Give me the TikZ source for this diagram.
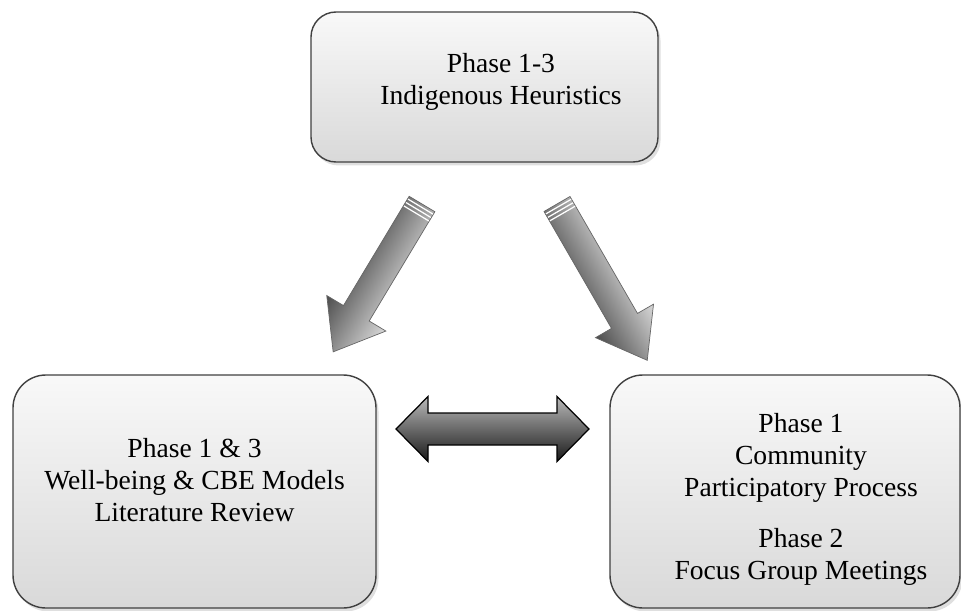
\documentclass[tikz,border=0pt]{standalone}
\usepackage{fontspec}
\setmainfont{Liberation Serif}
\usepackage{tikz}
\usetikzlibrary{calc,positioning,shadows}
\tikzset{
  box/.style={draw=black!75,line width=0.8pt,top color=gray!5,bottom color=gray!30,
    drop shadow={opacity=0.25,shadow xshift=0.05cm,shadow yshift=-0.07cm}},
  lbl/.style={font=\fontsize{15.7}{18.2}\selectfont,align=center,inner sep=0pt},
  fat/.style={draw=black!60,line width=0.4pt,top color=gray!30,middle color=gray!65,bottom color=gray!60!black},
  twin/.style={draw=black,line width=0.7pt,top color=gray!55,bottom color=gray!20!black},
  rib/.style={white,line width=0.7pt},
}

\begin{document}
\begin{tikzpicture}
    \useasboundingbox (0,0) rectangle (19.22,12.2);
    % ---------- the three phase boxes ----------
    \node[box,rounded corners=0.5cm,minimum width=6.94cm,minimum height=3.0cm] (heur) at (9.69,10.46) {};
    \node[box,rounded corners=0.66cm,minimum width=7.26cm,minimum height=4.66cm] (lit) at (3.89,2.37) {};
    \node[box,rounded corners=0.66cm,minimum width=7.0cm,minimum height=4.66cm] (comm) at (15.7,2.37) {};
    % box texts
    \node[lbl] (heurtxt) at ($(heur.center)+(0.33,0.11)$) {Phase 1-3\\Indigenous Heuristics};
    \node[lbl] (littxt) at ($(lit.center)+(0,0.22)$) {Phase 1 \& 3\\Well-being \& CBE Models\\Literature Review};
    \node[lbl] (commtxt) at ($(comm.center)+(0.32,-0.15)$) {Phase 1\\Community\\Participatory Process\\[0.38cm]Phase 2\\Focus Group Meetings};
    % ---------- block arrows ----------
    \coordinate (tl) at (8.44,8.12);   % tail, left arrow
    \coordinate (tr) at (11.14,8.12);  % tail, right arrow
    \coordinate (tw) at (9.85,3.62);   % centre, double arrow
    \begin{scope}[transform canvas={shift={(tl)},rotate=239}]
      \shade[fat] (0,-0.3) -- (2.55,-0.3) -- (2.55,-0.69) -- (3.45,0) -- (2.55,0.69) -- (2.55,0.3) -- (0,0.3) -- cycle;
      \foreach \s in {0.06,0.14,0.22}
        \draw[rib] (\s,-0.29) -- (\s,0.29);
    \end{scope}
    \begin{scope}[transform canvas={shift={(tr)},rotate=-60}]
      \shade[fat] (0,-0.3) -- (2.7,-0.3) -- (2.7,-0.67) -- (3.61,0) -- (2.7,0.67) -- (2.7,0.3) -- (0,0.3) -- cycle;
      \foreach \s in {0.06,0.14,0.22}
        \draw[rib] (\s,-0.29) -- (\s,0.29);
    \end{scope}
    \begin{scope}[shift={(tw)}]
      \shade[twin] (-1.93,0) -- (-1.29,0.65) -- (-1.29,0.32) -- (1.29,0.32) -- (1.29,0.65) -- (1.93,0)
                  -- (1.29,-0.65) -- (1.29,-0.32) -- (-1.29,-0.32) -- (-1.29,-0.65) -- cycle;
    \end{scope}
\end{tikzpicture}
\end{document}
